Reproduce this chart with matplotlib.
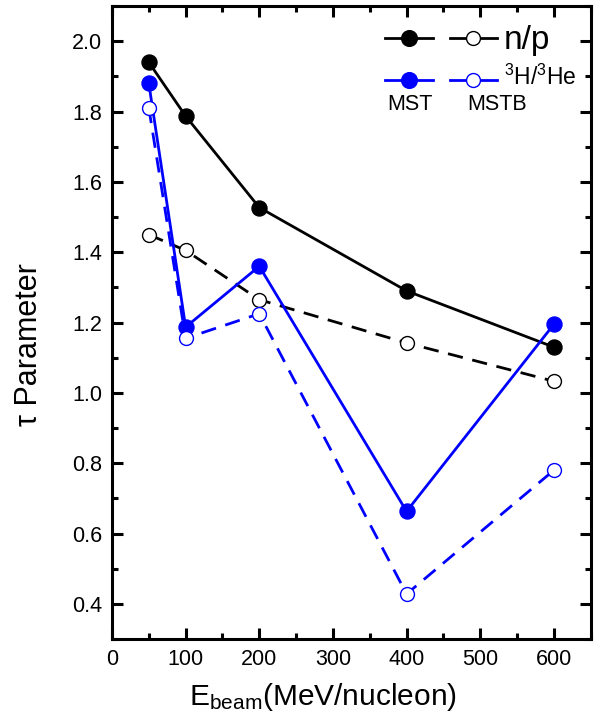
import matplotlib
matplotlib.use("Agg")
import matplotlib.pyplot as plt
from matplotlib.lines import Line2D
from matplotlib.ticker import MultipleLocator, FormatStrFormatter

plt.rcParams['font.family'] = ['Liberation Sans', 'DejaVu Sans']
plt.rcParams['mathtext.fontset'] = 'custom'
plt.rcParams['mathtext.rm'] = 'Liberation Sans'
plt.rcParams['mathtext.it'] = 'Liberation Sans'

energy = [50, 100, 200, 400, 600]
np_mst = [1.94, 1.787, 1.527, 1.29, 1.13]
np_mstb = [1.45, 1.405, 1.265, 1.142, 1.033]
th_mst = [1.88, 1.187, 1.36, 0.663, 1.195]
th_mstb = [1.81, 1.155, 1.225, 0.428, 0.78]

fig = plt.figure(figsize=(6.04, 7.25), dpi=100)
ax = fig.add_axes([0.1854, 0.1186, 0.7926, 0.8731])

lw = 2.0
ms = 10.8
ax.plot(energy, np_mst, '-', color='black', lw=lw, marker='o', ms=ms,
        mfc='black', mec='black')
ax.plot(energy, np_mstb, '--', color='black', lw=lw, dashes=(5.5, 3.5), marker='o', ms=ms - 0.8,
        mfc='white', mec='black', mew=1.0)
ax.plot(energy, th_mst, '-', color='#0000ff', lw=lw, marker='o', ms=ms,
        mfc='#0000ff', mec='#0000ff')
ax.plot(energy, th_mstb, '--', color='#0000ff', lw=lw, dashes=(5.5, 3.5), marker='o', ms=ms - 0.8,
        mfc='white', mec='#0000ff', mew=1.0)

ax.set_xlim(0, 650)
ax.set_ylim(0.3, 2.1)
ax.xaxis.set_major_locator(MultipleLocator(100))
ax.xaxis.set_minor_locator(MultipleLocator(50))
ax.yaxis.set_major_locator(MultipleLocator(0.2))
ax.yaxis.set_minor_locator(MultipleLocator(0.1))
ax.set_yticks([0.4, 0.6, 0.8, 1.0, 1.2, 1.4, 1.6, 1.8, 2.0])
ax.yaxis.set_major_formatter(FormatStrFormatter('%.1f'))
ax.tick_params(which='both', direction='in', top=True, right=True, width=2.2)
ax.tick_params(which='major', length=8, labelsize=15.5, pad=7)
ax.tick_params(which='minor', length=4.5)
for s in ax.spines.values():
    s.set_linewidth(2.2)

ax.set_xlabel(r'E$_{\mathrm{beam}}$(MeV/nucleon)', fontsize=21.5)
ax.xaxis.set_label_coords((323 - 112) / 479, -(697 - 639) / 633)
ax.xaxis.label.set_va('center')
ax.set_ylabel('τ Parameter', fontsize=22)
ax.yaxis.set_label_coords(-(112 - 29) / 479, (639 - 345) / 633)
ax.yaxis.label.set_va('center')

# Legend glyphs in axes coordinates
def px2ax(x, y):
    return ((x - 112) / (591 - 112), (639 - y) / (639 - 6))

def glyph(x0, x1, y, color, mfc, msz, mew):
    a0 = px2ax(x0, y)
    a1 = px2ax(x1, y)
    xm = (a0[0] + a1[0]) / 2
    ax.add_line(Line2D([a0[0], a1[0]], [a0[1], a1[1]], transform=ax.transAxes,
                       color=color, lw=lw))
    ax.add_line(Line2D([xm], [a0[1]], transform=ax.transAxes, marker='o', ms=msz,
                       mfc=mfc, mec=color, mew=mew, ls='none'))

glyph(385, 433, 38, 'black', 'black', ms, 1.5)
glyph(450, 497, 38, 'black', 'white', ms - 0.8, 1.0)
glyph(385, 433, 80, '#0000ff', '#0000ff', ms, 1.5)
glyph(450, 497, 80, '#0000ff', 'white', ms - 0.8, 1.0)

p = px2ax(504, 40)
ax.text(p[0], p[1], 'n/p', transform=ax.transAxes, fontsize=24, va='center', ha='left')
p = px2ax(504, 77)
ax.text(p[0], p[1], r'$^{3}$H/$^{3}$He', transform=ax.transAxes, fontsize=16.5, va='center', ha='left')
p = px2ax(410, 104)
ax.text(p[0], p[1], 'MST', transform=ax.transAxes, fontsize=15.5, va='center', ha='center')
p = px2ax(497, 104)
ax.text(p[0], p[1], 'MSTB', transform=ax.transAxes, fontsize=15.5, va='center', ha='center')

fig.savefig('out.png', dpi=100)
